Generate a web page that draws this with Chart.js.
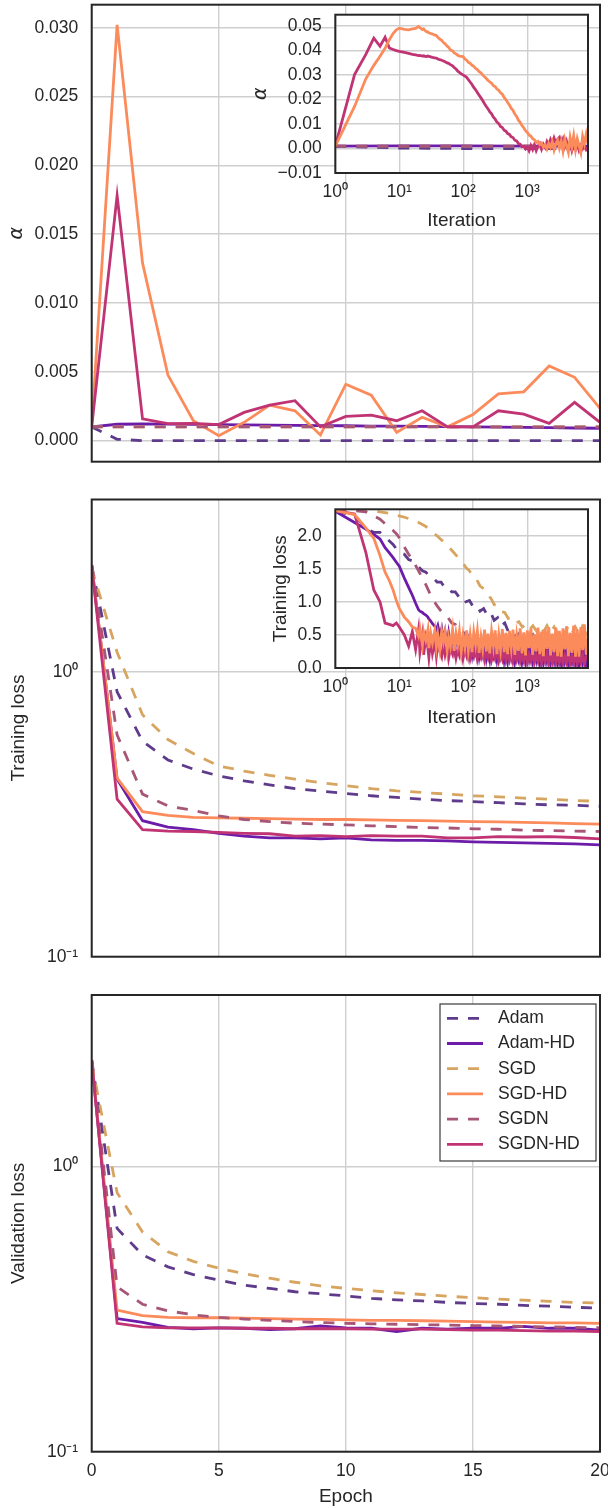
<!DOCTYPE html>
<html>
<head>
<meta charset="utf-8">
<script src="https://cdn.jsdelivr.net/npm/chart.js@4.4.1/dist/chart.umd.min.js"></script>
<style>
  html, body { margin: 0; padding: 0; background: #fff; }
  #wrap { position: relative; width: 608px; height: 1508px; }
  canvas { position: absolute; }
</style>
</head>
<body>
<div id="wrap">
  <canvas id="alphaChart" width="608" height="480" style="left:0;top:0"></canvas>
  <canvas id="trainChart" width="608" height="500" style="left:0;top:480px"></canvas>
  <canvas id="validChart" width="608" height="528" style="left:0;top:980px"></canvas>
  <canvas id="alphaInset" width="350" height="240" style="left:250px;top:0"></canvas>
  <canvas id="trainInset" width="350" height="250" style="left:250px;top:490px"></canvas>
</div>
<script>
// ---- data ----
const methods = ['Adam', 'Adam-HD', 'SGD', 'SGD-HD', 'SGDN', 'SGDN-HD'];
const epochs = [0, 1, 2, 3, 4, 5, 6, 7, 8, 9, 10, 11, 12, 13, 14, 15, 16, 17, 18, 19, 20];

const alphaAdam   = [0.001, 0.0001, 0, 0, 0, 0, 0, 0, 0, 0, 0, 0, 0, 0, 0, 0, 0, 0, 0, 0, 0];
const alphaAdamHD = [0.001, 0.00119, 0.00121, 0.0012, 0.00118, 0.00117, 0.00115, 0.00113, 0.00111, 0.00109, 0.00108, 0.00106, 0.00105, 0.00104, 0.00102, 0.001, 0.00098, 0.00096, 0.00094, 0.00092, 0.0009];
const alphaSGD    = [0.001, 0.001, 0.001, 0.001, 0.001, 0.001, 0.001, 0.001, 0.001, 0.001, 0.001, 0.001, 0.001, 0.001, 0.001, 0.001, 0.001, 0.001, 0.001, 0.001, 0.001];
const alphaSGDHD  = [0.001, 0.0302, 0.0129, 0.00476, 0.00145, 0.00036, 0.00133, 0.00258, 0.00217, 0.00041, 0.0041, 0.0033, 0.0006, 0.0017, 0.001, 0.0019, 0.0034, 0.00355, 0.00543, 0.0046, 0.00234];
const alphaSGDN   = [0.001, 0.001, 0.001, 0.001, 0.001, 0.001, 0.001, 0.001, 0.001, 0.001, 0.001, 0.001, 0.001, 0.001, 0.001, 0.001, 0.001, 0.001, 0.001, 0.001, 0.001];
const alphaSGDNHD = [0.001, 0.0178, 0.00158, 0.00124, 0.00126, 0.00117, 0.00205, 0.00258, 0.0029, 0.001, 0.00176, 0.00186, 0.00145, 0.00217, 0.001, 0.001, 0.00217, 0.00193, 0.00126, 0.00278, 0.00133];

const trainAdam   = [2.36, 0.85, 0.57, 0.49, 0.455, 0.431, 0.414, 0.401, 0.389, 0.381, 0.374, 0.367, 0.362, 0.357, 0.353, 0.35, 0.347, 0.344, 0.341, 0.34, 0.337];
const trainAdamHD = [2.36, 0.42, 0.30, 0.285, 0.279, 0.271, 0.265, 0.261, 0.261, 0.259, 0.261, 0.257, 0.256, 0.256, 0.255, 0.253, 0.252, 0.251, 0.25, 0.249, 0.247];
const trainSGD    = [2.3, 1.17, 0.706, 0.578, 0.516, 0.467, 0.448, 0.433, 0.42, 0.408, 0.398, 0.389, 0.382, 0.377, 0.372, 0.367, 0.364, 0.36, 0.357, 0.353, 0.351];
const trainSGDHD  = [2.38, 0.423, 0.323, 0.313, 0.308, 0.307, 0.306, 0.305, 0.304, 0.303, 0.303, 0.302, 0.301, 0.3, 0.299, 0.298, 0.297, 0.296, 0.295, 0.293, 0.292];
const trainSGDN   = [2.36, 0.6, 0.372, 0.338, 0.326, 0.312, 0.303, 0.298, 0.294, 0.292, 0.29, 0.288, 0.286, 0.284, 0.283, 0.281, 0.28, 0.278, 0.277, 0.276, 0.275];
const trainSGDNHD = [2.36, 0.357, 0.279, 0.276, 0.275, 0.273, 0.271, 0.27, 0.265, 0.266, 0.264, 0.266, 0.265, 0.265, 0.261, 0.261, 0.264, 0.263, 0.264, 0.262, 0.259];

const validAdam   = [2.36, 0.607, 0.49, 0.445, 0.418, 0.40, 0.384, 0.374, 0.364, 0.358, 0.352, 0.345, 0.341, 0.338, 0.334, 0.331, 0.329, 0.326, 0.324, 0.321, 0.319];
const validAdamHD = [2.36, 0.293, 0.284, 0.273, 0.27, 0.272, 0.271, 0.268, 0.27, 0.276, 0.272, 0.271, 0.264, 0.271, 0.269, 0.271, 0.271, 0.275, 0.271, 0.271, 0.267];
const validSGD    = [2.3, 0.81, 0.59, 0.503, 0.465, 0.44, 0.421, 0.406, 0.393, 0.382, 0.374, 0.367, 0.361, 0.356, 0.351, 0.347, 0.343, 0.34, 0.337, 0.334, 0.332];
const validSGDHD  = [2.38, 0.314, 0.30, 0.296, 0.295, 0.295, 0.294, 0.293, 0.292, 0.291, 0.29, 0.289, 0.289, 0.288, 0.287, 0.286, 0.285, 0.284, 0.283, 0.283, 0.282];
const validSGDN   = [2.36, 0.379, 0.329, 0.312, 0.302, 0.296, 0.292, 0.289, 0.286, 0.284, 0.282, 0.281, 0.28, 0.279, 0.278, 0.277, 0.276, 0.275, 0.274, 0.273, 0.272];
const validSGDNHD = [2.36, 0.282, 0.274, 0.272, 0.272, 0.272, 0.271, 0.271, 0.27, 0.27, 0.27, 0.269, 0.269, 0.269, 0.268, 0.267, 0.267, 0.266, 0.265, 0.265, 0.264];

// per-iteration traces for the insets
const iterations = [1, 2, 3, 4, 5, 6, 7, 8, 9, 10, 12, 14, 16, 18, 20, 23, 26, 30, 34, 39, 45, 51, 58, 66, 75,
  85, 97, 110, 125, 142, 161, 183, 208, 236, 268, 304, 345, 392, 445, 505, 573, 651, 739, 839, 952,
  1081, 1227, 1393, 1581, 1795, 2038, 2313, 2626, 2981, 3384, 3842, 4361, 4951, 5620, 6380, 7243, 8222, 8900];
const iterFine = [1, 2, 3, 4, 5, 6, 7, 8, 9, 10, 12, 14, 16, 18,
  20, 21, 23, 24, 26, 28, 29, 31, 33, 36,
  38, 40, 43, 46, 49, 52, 56, 59, 63, 68,
  72, 77, 82, 87, 93, 99, 106, 113, 120, 128,
  137, 146, 156, 166, 177, 189, 201, 215, 229, 244,
  260, 277, 296, 315, 336, 359, 382, 408, 435, 464,
  494, 527, 562, 599, 639, 682, 727, 775, 826, 881,
  940, 1002, 1068, 1139, 1215, 1295, 1381, 1473, 1570, 1674,
  1785, 1904, 2030, 2165, 2308, 2461, 2625, 2799, 2984, 3182,
  3393, 3618, 3858, 4114, 4387, 4677, 4988, 5318, 5671, 6047,
  6448, 6876, 7332, 7818, 8336, 8889];
const iterFlat = [1, 10, 100, 1000, 8900];

const insetAlphaAdam   = [0.001, 0.0002, 0, 0, 0];
const insetAlphaAdamHD = [0.001, 0.0011, 0.0011, 0.001, 0.001];
const insetAlphaSGD    = [0.001, 0.001, 0.001, 0.001, 0.001];
const insetAlphaSGDN   = [0.001, 0.001, 0.001, 0.001, 0.001];
const insetAlphaSGDHD  = [0.001, 0.0172, 0.0285, 0.034, 0.0377, 0.041, 0.0445, 0.047, 0.0485, 0.0492, 0.0487, 0.0485, 0.0489, 0.0491,
  0.0499, 0.0494, 0.0486, 0.0489, 0.0479, 0.0476, 0.0473, 0.0470, 0.0468, 0.0463,
  0.0462, 0.0455, 0.0447, 0.0442, 0.0433, 0.0428, 0.0418, 0.0414, 0.0403, 0.0399,
  0.0391, 0.0387, 0.0381, 0.0378, 0.0377, 0.0376, 0.0366, 0.0361, 0.0352, 0.0349,
  0.0340, 0.0336, 0.0327, 0.0323, 0.0314, 0.0309, 0.0301, 0.0293, 0.0286, 0.0278,
  0.0272, 0.0267, 0.0257, 0.0253, 0.0243, 0.0238, 0.0228, 0.0222, 0.0209, 0.0200,
  0.0188, 0.0178, 0.0164, 0.0156, 0.0141, 0.0131, 0.0116, 0.0107, 0.0094, 0.0085,
  0.0073, 0.0066, 0.0055, 0.0051, 0.0040, 0.0036, 0.0025, 0.0029, 0.0016, 0.0022,
  0.0006, 0.0015, -0.0002, 0.0020, 0.0004, 0.0027, -0.0006, 0.0019, 0.0034, 0.0002,
  0.0030, -0.0010, 0.0038, 0.0012, -0.0015, 0.0045, 0.0008, 0.0052, -0.0004, 0.0040,
  0.0012, -0.0016, 0.0050, 0.0020, 0.0058, 0.0018];
const insetAlphaSGDNHD = [0.001, 0.0302, 0.0385, 0.0451, 0.0418, 0.0455, 0.0411, 0.0405, 0.0400, 0.0397, 0.0393, 0.0389, 0.0385, 0.0383,
  0.0380, 0.0381, 0.0378, 0.0379, 0.0376, 0.0378, 0.0377, 0.0375, 0.0373, 0.0371,
  0.0370, 0.0366, 0.0363, 0.0361, 0.0358, 0.0355, 0.0350, 0.0348, 0.0343, 0.0338,
  0.0331, 0.0325, 0.0316, 0.0311, 0.0305, 0.0301, 0.0296, 0.0291, 0.0282, 0.0272,
  0.0262, 0.0250, 0.0240, 0.0229, 0.0218, 0.0207, 0.0196, 0.0183, 0.0172, 0.0162,
  0.0150, 0.0142, 0.0128, 0.0120, 0.0108, 0.0102, 0.0090, 0.0086, 0.0075, 0.0071,
  0.0061, 0.0058, 0.0048, 0.0045, 0.0034, 0.0031, 0.0020, 0.0018, 0.0008, 0.0010,
  -0.0002, 0.0006, -0.0009, 0.0012, -0.0004, 0.0016, -0.0008, 0.0010, 0.0020, -0.0003,
  0.0017, 0.0004, 0.0028, 0.0012, 0.0036, 0.0018, 0.0043, 0.0022, 0.0038, 0.0046,
  0.0020, 0.0039, 0.0008, 0.0030, 0.0002, 0.0025, -0.0008, 0.0018, -0.0004, 0.0021,
  -0.0007, 0.0012, -0.0002, 0.0009, -0.0005, 0.0004];

const insetTrainAdam = [2.38, 2.30, 2.12, 2.05, 2.05, 1.98, 1.92, 1.87, 1.80, 1.75,
  1.72, 1.64, 1.62, 1.56, 1.53, 1.47, 1.45, 1.38, 1.36, 1.30,
  1.30, 1.22, 1.22, 1.15, 1.15, 1.08, 1.10, 1.00, 1.02, 0.93,
  0.95, 0.86, 0.90, 0.80, 0.84, 0.72, 0.76, 0.64, 0.68, 0.55,
  0.58, 0.48, 0.52, 0.44, 0.50, 0.42, 0.50, 0.40, 0.48, 0.38,
  0.48, 0.38, 0.46, 0.36, 0.46, 0.36, 0.45, 0.36, 0.44, 0.35,
  0.44, 0.35, 0.40];
const insetTrainAdamHD = [2.37, 2.20, 2.10, 2.02, 1.95, 1.82, 1.74, 1.67, 1.60, 1.54, 1.36, 1.22, 1.10, 0.98,
  0.88, 0.86, 0.84, 0.82, 0.80, 0.77, 0.74, 0.71, 0.67, 0.63,
  0.58, 0.64, 0.50, 0.60, 0.42, 0.55, 0.36, 0.52, 0.32, 0.48,
  0.28, 0.46, 0.33, 0.44, 0.24, 0.40, 0.28, 0.43, 0.21, 0.38,
  0.20, 0.41, 0.26, 0.39, 0.18, 0.36, 0.22, 0.40, 0.16, 0.35,
  0.15, 0.38, 0.21, 0.37, 0.14, 0.33, 0.19, 0.37, 0.13, 0.34,
  0.12, 0.36, 0.18, 0.35, 0.11, 0.31, 0.16, 0.36, 0.11, 0.33,
  0.10, 0.34, 0.15, 0.34, 0.10, 0.30, 0.14, 0.35, 0.09, 0.31,
  0.09, 0.33, 0.13, 0.32, 0.08, 0.29, 0.12, 0.33, 0.08, 0.30,
  0.08, 0.32, 0.12, 0.31, 0.07, 0.28, 0.11, 0.32, 0.07, 0.29,
  0.07, 0.31, 0.10, 0.30, 0.07, 0.25];
const insetTrainSGD = [2.38, 2.38, 2.38, 2.37, 2.36, 2.35, 2.34, 2.32, 2.31, 2.30,
  2.28, 2.26, 2.24, 2.22, 2.20, 2.17, 2.14, 2.10, 2.04, 2.00,
  1.94, 1.90, 1.84, 1.78, 1.72, 1.66, 1.60, 1.52, 1.47, 1.38,
  1.34, 1.24, 1.20, 1.10, 1.06, 0.96, 0.94, 0.85, 0.84, 0.75,
  0.76, 0.68, 0.70, 0.62, 0.66, 0.58, 0.64, 0.56, 0.64, 0.55,
  0.64, 0.54, 0.62, 0.52, 0.62, 0.52, 0.63, 0.52, 0.62, 0.52,
  0.63, 0.52, 0.65];
const insetTrainSGDHD = [2.38, 2.32, 2.12, 1.96, 1.70, 1.45, 1.32, 1.18, 1.02, 0.90, 0.77, 0.70, 0.62, 0.60,
  0.48, 0.60, 0.35, 0.55, 0.42, 0.58, 0.30, 0.52, 0.38, 0.57,
  0.32, 0.50, 0.28, 0.56, 0.40, 0.54, 0.27, 0.47, 0.33, 0.58,
  0.26, 0.52, 0.36, 0.55, 0.25, 0.49, 0.31, 0.57, 0.27, 0.50,
  0.24, 0.54, 0.35, 0.56, 0.23, 0.47, 0.29, 0.58, 0.25, 0.52,
  0.22, 0.55, 0.33, 0.57, 0.21, 0.50, 0.28, 0.59, 0.24, 0.53,
  0.21, 0.56, 0.31, 0.58, 0.20, 0.49, 0.26, 0.60, 0.22, 0.54,
  0.19, 0.57, 0.30, 0.60, 0.20, 0.51, 0.25, 0.61, 0.21, 0.55,
  0.18, 0.59, 0.29, 0.62, 0.19, 0.52, 0.24, 0.61, 0.18, 0.56,
  0.17, 0.60, 0.28, 0.63, 0.18, 0.53, 0.23, 0.64, 0.17, 0.58,
  0.17, 0.62, 0.27, 0.66, 0.20, 0.45];
const insetTrainSGDN = [2.38, 2.38, 2.36, 2.30, 2.25, 2.18, 2.12, 2.08, 2.03, 1.97,
  1.83, 1.72, 1.64, 1.55, 1.47, 1.36, 1.26, 1.13, 1.03, 0.94,
  0.86, 0.80, 0.76, 0.68, 0.66, 0.57, 0.56, 0.48, 0.50, 0.42,
  0.48, 0.40, 0.46, 0.38, 0.45, 0.37, 0.44, 0.36, 0.44, 0.36,
  0.43, 0.35, 0.43, 0.35, 0.43, 0.34, 0.42, 0.34, 0.42, 0.34,
  0.42, 0.33, 0.42, 0.33, 0.41, 0.33, 0.41, 0.33, 0.41, 0.32,
  0.41, 0.32, 0.38];
const insetTrainSGDNHD = [2.38, 2.33, 1.75, 1.18, 1.00, 0.68, 0.66, 0.64, 0.68, 0.62, 0.50, 0.33, 0.55, 0.28,
  0.58, 0.24, 0.50, 0.20, 0.46, 0.30, 0.16, 0.44, 0.22, 0.40,
  0.18, 0.38, 0.25, 0.17, 0.36, 0.20, 0.34, 0.15, 0.30, 0.21,
  0.33, 0.15, 0.28, 0.19, 0.31, 0.14, 0.27, 0.18, 0.30, 0.14,
  0.26, 0.17, 0.29, 0.13, 0.25, 0.16, 0.28, 0.12, 0.24, 0.15,
  0.27, 0.12, 0.23, 0.14, 0.27, 0.11, 0.23, 0.13, 0.26, 0.11,
  0.22, 0.12, 0.26, 0.10, 0.22, 0.12, 0.25, 0.10, 0.21, 0.11,
  0.25, 0.09, 0.21, 0.11, 0.24, 0.09, 0.20, 0.10, 0.24, 0.08,
  0.20, 0.10, 0.23, 0.08, 0.19, 0.09, 0.23, 0.08, 0.19, 0.09,
  0.22, 0.07, 0.19, 0.09, 0.22, 0.07, 0.18, 0.08, 0.22, 0.07,
  0.18, 0.08, 0.21, 0.07, 0.17, 0.20];

// ticks
const epochTicks = [0, 5, 10, 15, 20];
const alphaTicks = [0, 0.005, 0.01, 0.015, 0.02, 0.025, 0.03];
const lossTicks = [0.1, 1];
const lossTickLabels = ['10\u207B\u00B9', '10\u2070'];
const iterTicks = [1, 10, 100, 1000];
const iterTickLabels = ['10\u2070', '10\u00B9', '10\u00B2', '10\u00B3'];
const insetAlphaTicks = [-0.01, 0, 0.01, 0.02, 0.03, 0.04, 0.05];
const insetLossTicks = [0, 0.5, 1, 1.5, 2];

// ---- styling ----
const ink = '#262626';
const gridColor = '#cfcfcf';
const sans = "'Liberation Sans', Arial, sans-serif";
const tickFont = { family: sans, size: 17.5 };
const titleFont = { family: sans, size: 19 };
const greekFont = { family: "'DejaVu Sans', sans-serif", size: 19, style: 'italic' };
const lineColors = ['#5f3b8c', '#6c1ca8', '#d7a560', '#fc8b5c', '#a75677', '#c03474'];
const lineDash = [[11, 10], [], [11, 10], [], [11, 10], []];

Chart.defaults.animation = false;
Chart.defaults.font.family = sans;
Chart.defaults.color = ink;

const fixed = n => v => (v < 0 ? '\u2212' : '') + Math.abs(v).toFixed(n);

function pts(xs, ys) {
  return ys.map((y, i) => ({ x: xs[i], y: y }));
}

function datasets(xsList, ysList, orders) {
  return methods.map((m, i) => ({
    label: m,
    data: pts(xsList[i], ysList[i]),
    borderColor: lineColors[i],
    borderDash: lineDash[i],
    borderWidth: 2.8,
    pointRadius: 0,
    tension: 0,
    order: orders[i]
  }));
}

function axis(o) {
  return {
    type: o.type || 'linear',
    min: o.min,
    max: o.max,
    border: { display: false },
    grid: { color: gridColor, lineWidth: 1.4, drawTicks: false },
    ticks: {
      display: o.labels !== false,
      color: ink,
      font: tickFont,
      padding: o.pad || 0,
      autoSkip: false,
      maxRotation: 0,
      callback: o.format
    },
    title: o.title
      ? { display: true, text: o.title, color: ink, font: o.titleFont || titleFont, padding: o.titlePad }
      : { display: false },
    afterBuildTicks: s => { s.ticks = o.ticks.map(v => ({ value: v })); },
    afterFit: s => {
      if (o.horizontal) {
        s.height = o.size; s.paddingLeft = 0; s.paddingRight = 0;
      } else {
        s.width = o.size; s.paddingTop = 0; s.paddingBottom = 0;
      }
    }
  };
}

// frame around the plot area, white face for the insets
const framePlugin = {
  id: 'frame',
  beforeDraw(chart, args, opts) {
    if (!opts.face) return;
    const a = chart.chartArea;
    chart.ctx.save();
    chart.ctx.fillStyle = '#fff';
    chart.ctx.fillRect(a.left, a.top, a.right - a.left, a.bottom - a.top);
    chart.ctx.restore();
  },
  afterDatasetsDraw(chart) {
    const a = chart.chartArea;
    const ctx = chart.ctx;
    ctx.save();
    ctx.strokeStyle = ink;
    ctx.lineWidth = 2;
    ctx.strokeRect(a.left, a.top, a.right - a.left, a.bottom - a.top);
    ctx.restore();
  }
};

// legend box inside the validation panel
const legendPlugin = {
  id: 'boxLegend',
  afterDraw(chart, args, o) {
    if (!o.show) return;
    const ctx = chart.ctx;
    ctx.save();
    ctx.fillStyle = '#fff';
    ctx.fillRect(o.x, o.y, o.w, o.h);
    ctx.strokeStyle = '#3a3a3a';
    ctx.lineWidth = 1.2;
    ctx.strokeRect(o.x, o.y, o.w, o.h);
    chart.data.datasets.forEach((ds, i) => {
      const y = o.y + o.first + i * o.step;
      ctx.beginPath();
      ctx.setLineDash(ds.borderDash);
      ctx.strokeStyle = ds.borderColor;
      ctx.lineWidth = ds.borderWidth;
      ctx.moveTo(o.x + 7, y);
      ctx.lineTo(o.x + 43, y);
      ctx.stroke();
      ctx.setLineDash([]);
      ctx.fillStyle = ink;
      ctx.font = '17.5px ' + sans;
      ctx.textBaseline = 'middle';
      ctx.fillText(ds.label, o.x + 58, y);
    });
    ctx.restore();
  }
};

function makeChart(id, cfg) {
  return new Chart(document.getElementById(id), {
    type: 'line',
    data: { datasets: cfg.datasets },
    options: {
      responsive: false,
      events: [],
      layout: { padding: cfg.padding },
      plugins: {
        legend: { display: false },
        tooltip: { enabled: false },
        frame: { face: !!cfg.face },
        boxLegend: cfg.legend || { show: false }
      },
      scales: { x: cfg.x, y: cfg.y }
    },
    plugins: [framePlugin, legendPlugin]
  });
}

const mainOrder = [6, 5, 4, 3, 2, 1];
const insetOrder = [6, 4, 5, 1, 3, 2];
const epochX = [epochs, epochs, epochs, epochs, epochs, epochs];

// alpha per epoch
makeChart('alphaChart', {
  padding: { top: 4.7, right: 8, bottom: 0, left: 0 },
  datasets: datasets(epochX, [alphaAdam, alphaAdamHD, alphaSGD, alphaSGDHD, alphaSGDN, alphaSGDNHD], mainOrder),
  x: axis({ min: 0, max: 20, ticks: epochTicks, labels: false, horizontal: true, size: 18.3 }),
  y: axis({ min: -0.00153, max: 0.03167, ticks: alphaTicks, format: fixed(3), pad: 13.5, size: 91.7,
    title: '\u03B1', titleFont: greekFont, titlePad: { top: 6, bottom: 0 } })
});

// training loss per epoch
makeChart('trainChart', {
  padding: { top: 19.5, right: 8, bottom: 0, left: 0 },
  datasets: datasets(epochX, [trainAdam, trainAdamHD, trainSGD, trainSGDHD, trainSGDN, trainSGDNHD], mainOrder),
  x: axis({ min: 0, max: 20, ticks: epochTicks, labels: false, horizontal: true, size: 23.3 }),
  y: axis({ type: 'logarithmic', min: 0.1, max: 4.02, ticks: lossTicks, format: (v, i) => lossTickLabels[i],
    pad: 13.5, size: 91.7, title: 'Training loss', titlePad: { top: 7, bottom: 0 } })
});

// validation loss per epoch, with the legend
makeChart('validChart', {
  padding: { top: 15, right: 8, bottom: 0, left: 0 },
  datasets: datasets(epochX, [validAdam, validAdamHD, validSGD, validSGDHD, validSGDN, validSGDNHD], mainOrder),
  x: axis({ min: 0, max: 20, ticks: epochTicks, format: v => String(v), pad: 9, horizontal: true, size: 56.3,
    title: 'Epoch', titlePad: { top: 0, bottom: 0 } }),
  y: axis({ type: 'logarithmic', min: 0.1, max: 4.0, ticks: lossTicks, format: (v, i) => lossTickLabels[i],
    pad: 13.5, size: 91.7, title: 'Validation loss', titlePad: { top: 7, bottom: 0 } }),
  legend: { show: true, x: 440, y: 24, w: 156, h: 157, first: 14.3, step: 25.2 }
});

// alpha per iteration (inset)
makeChart('alphaInset', {
  face: true,
  padding: { top: 14.7, right: 12, bottom: 0, left: 0 },
  datasets: datasets([iterFlat, iterFlat, iterFlat, iterFine, iterFlat, iterFine],
    [insetAlphaAdam, insetAlphaAdamHD, insetAlphaSGD, insetAlphaSGDHD, insetAlphaSGDN, insetAlphaSGDNHD], insetOrder),
  x: axis({ type: 'logarithmic', min: 1, max: 8900, ticks: iterTicks, format: (v, i) => iterTickLabels[i],
    pad: 9, horizontal: true, size: 67, title: 'Iteration', titlePad: { top: 0, bottom: 8 } }),
  y: axis({ min: -0.01, max: 0.0547, ticks: insetAlphaTicks, format: fixed(2), pad: 13.5, size: 85.3,
    title: '\u03B1', titleFont: greekFont, titlePad: { top: 0, bottom: 0 } })
});

// training loss per iteration (inset)
makeChart('trainInset', {
  face: true,
  padding: { top: 19.3, right: 12, bottom: 0, left: 0 },
  datasets: datasets([iterations, iterFine, iterations, iterFine, iterations, iterFine],
    [insetTrainAdam, insetTrainAdamHD, insetTrainSGD, insetTrainSGDHD, insetTrainSGDN, insetTrainSGDNHD], insetOrder),
  x: axis({ type: 'logarithmic', min: 1, max: 8900, ticks: iterTicks, format: (v, i) => iterTickLabels[i],
    pad: 9, horizontal: true, size: 72, title: 'Iteration', titlePad: { top: 0, bottom: 11 } }),
  y: axis({ min: 0, max: 2.4, ticks: insetLossTicks, format: fixed(1), pad: 13.5, size: 85.3,
    title: 'Training loss', titlePad: { top: 19.5, bottom: 0 } })
});
</script>
</body>
</html>
